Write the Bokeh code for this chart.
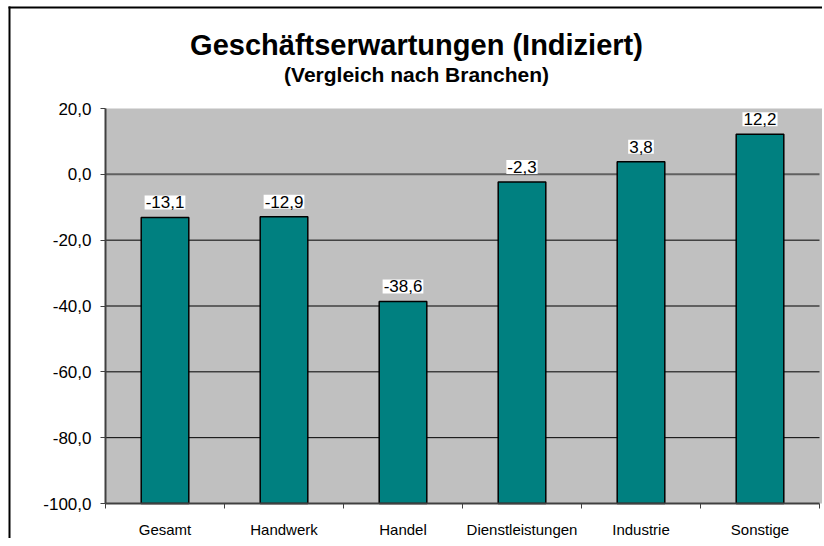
from bokeh.plotting import figure
from bokeh.models import FixedTicker, Label, BoxAnnotation
from bokeh.embed import file_html
from bokeh.resources import INLINE

# ---- data ----
categories = ["Gesamt", "Handwerk", "Handel", "Dienstleistungen", "Industrie", "Sonstige"]
values = [-13.1, -12.9, -38.6, -2.3, 3.8, 12.2]
value_labels = ["-13,1", "-12,9", "-38,6", "-2,3", "3,8", "12,2"]
y_ticks = [-100, -80, -60, -40, -20, 0, 20]
y_tick_labels = ["-100,0", "-80,0", "-60,0", "-40,0", "-20,0", "0,0", "20,0"]
grid_ticks = [-80, -60, -40, -20]
y_min, y_max = -100, 20
title_text = "Geschäftserwartungen (Indiziert)"
subtitle_text = "(Vergleich nach Branchen)"

FONT = "Liberation Sans"
W, H = 822, 538
# plot-area placement on the canvas (pixels)
PA_L, PA_R, PA_T, PA_B = 105, 819, 108, 503

n = len(categories)
xs = [i + 0.5 for i in range(n)]
PXX = (PA_R - PA_L) / n
PXY = (PA_B - PA_T) / (y_max - y_min)
x_range = (0 - PA_L / PXX, n + (W - PA_R) / PXX)
y_range = (y_min - (H - PA_B) / PXY, y_max + PA_T / PXY)

p = figure(width=W, height=H, x_range=x_range, y_range=y_range,
           output_backend="svg", toolbar_location=None,
           min_border=0, min_border_left=0, min_border_right=0,
           min_border_top=0, min_border_bottom=0)
p.background_fill_color = "white"
p.border_fill_color = "white"
p.outline_line_color = None
p.grid.visible = False

# plot area background (slightly wider than the axis, as in the original)
p.add_layout(BoxAnnotation(left=0, right=n + 3 / PXX, bottom=y_min, top=y_max,
                           fill_color="#C0C0C0", fill_alpha=1, line_color=None,
                           level="underlay"))
# grid lines
p.segment(x0=[0] * len(grid_ticks), x1=[n] * len(grid_ticks), y0=grid_ticks,
          y1=grid_ticks, line_color="black", line_width=1)
p.segment(x0=[0], x1=[n], y0=[0], y1=[0], line_color="#606060", line_width=2)

# bars
p.vbar(x=xs, width=0.4, bottom=y_min, top=values, fill_color="#008080",
       line_color="black", line_width=1.5)

# value labels
for x, v, t in zip(xs, values, value_labels):
    p.add_layout(Label(x=x, y=v, text=t, text_align="center", text_baseline="bottom",
                       y_offset=8, text_font=FONT, text_font_size="17px",
                       text_color="black", background_fill_color="white",
                       padding=1))

# y axis
ya = p.yaxis[0]
ya.fixed_location = 0
ya.bounds = (y_min, y_max)
ya.ticker = FixedTicker(ticks=y_ticks, minor_ticks=[])
ya.major_label_overrides = {t: l for t, l in zip(y_ticks, y_tick_labels)}
ya.major_label_text_font = FONT
ya.major_label_text_font_size = "17px"
ya.major_label_text_color = "black"
ya.major_label_standoff = 9
ya.major_tick_out = 5
ya.major_tick_in = 0
ya.minor_tick_out = 0
ya.minor_tick_in = 0
ya.axis_line_color = "#404040"
ya.axis_line_width = 2
ya.major_tick_line_color = "#404040"

# x axis
xa = p.xaxis[0]
xa.fixed_location = y_min
xa.bounds = (0, n)
xa.ticker = FixedTicker(ticks=xs, minor_ticks=list(range(n + 1)))
xa.major_label_overrides = {x: c for x, c in zip(xs, categories)}
xa.major_label_text_font = FONT
xa.major_label_text_font_size = "15px"
xa.major_label_text_color = "black"
xa.major_label_standoff = 12
xa.major_tick_out = 0
xa.major_tick_in = 0
xa.minor_tick_out = 5
xa.minor_tick_in = 0
xa.minor_tick_line_color = "#404040"
xa.axis_line_color = "#404040"
xa.axis_line_width = 2

# titles (screen units, origin bottom-left of the canvas-wide frame)
cx = 416
p.add_layout(Label(x=cx, y=H - 44, x_units="screen", y_units="screen",
                   text=title_text, text_align="center", text_baseline="alphabetic",
                   text_font=FONT, text_font_style="bold", text_font_size="29px",
                   text_color="black"))
p.add_layout(Label(x=cx, y=H - 74, x_units="screen", y_units="screen",
                   text=subtitle_text, text_align="center", text_baseline="alphabetic",
                   text_font=FONT, text_font_style="bold", text_font_size="21px",
                   text_color="black"))

# outer chart border (left and top edges)
p.add_layout(BoxAnnotation(left=8, right=10, bottom=0, top=H - 6,
                           left_units="screen", right_units="screen",
                           bottom_units="screen", top_units="screen",
                           fill_color="black", fill_alpha=1, line_color=None))
p.add_layout(BoxAnnotation(left=8, right=W, bottom=H - 8, top=H - 6,
                           left_units="screen", right_units="screen",
                           bottom_units="screen", top_units="screen",
                           fill_color="black", fill_alpha=1, line_color=None))

open("out.html", "w").write(file_html(p, INLINE))
